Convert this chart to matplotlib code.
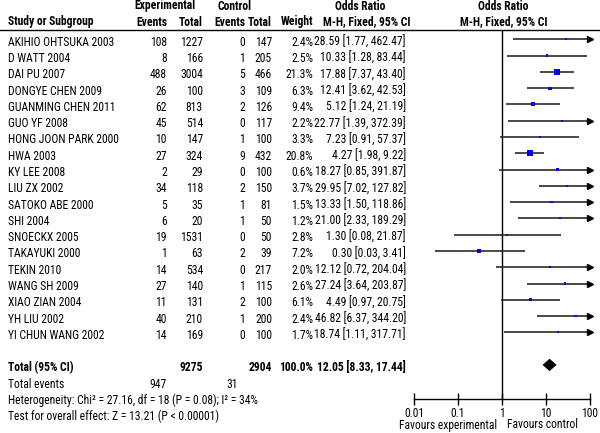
import matplotlib
matplotlib.use('Agg')
import matplotlib.pyplot as plt
from matplotlib.transforms import blended_transform_factory
from matplotlib.lines import Line2D
from matplotlib import font_manager
import numpy as np

_names = {f.name for f in font_manager.fontManager.ttflist}
_narrow = [n for n in ['Liberation Sans Narrow', 'Arial Narrow', 'Roboto Condensed'] if n in _names]
if _narrow:
    plt.rcParams['font.family'] = [_narrow[0], 'DejaVu Sans']
    fs = 8.4
else:
    plt.rcParams['font.family'] = ['Liberation Sans', 'DejaVu Sans']
    fs = 6.9

studies = ["AKIHIO OHTSUKA 2003", "D WATT 2004", "DAI PU 2007", "DONGYE CHEN 2009",
           "GUANMING CHEN 2011", "GUO YF 2008", "HONG JOON PARK 2000", "HWA 2003",
           "KY LEE 2008", "LIU ZX 2002", "SATOKO ABE 2000", "SHI 2004", "SNOECKX 2005",
           "TAKAYUKI 2000", "TEKIN 2010", "WANG SH 2009", "XIAO ZIAN 2004", "YH LIU 2002",
           "YI CHUN WANG 2002"]
exp_events = [108, 8, 488, 26, 62, 45, 10, 27, 2, 34, 5, 6, 19, 1, 14, 27, 11, 40, 14]
exp_total = [1227, 166, 3004, 100, 813, 514, 147, 324, 29, 118, 35, 20, 1531, 63, 534, 140, 131, 210, 169]
ctrl_events = [0, 1, 5, 3, 2, 0, 1, 9, 0, 2, 1, 1, 0, 2, 0, 1, 2, 1, 0]
ctrl_total = [147, 205, 466, 109, 126, 117, 100, 432, 100, 150, 81, 50, 50, 39, 217, 115, 100, 200, 100]
weights = [2.4, 2.5, 21.3, 6.3, 9.4, 2.2, 3.3, 20.8, 0.6, 3.7, 1.5, 1.2, 2.8, 7.2, 2.0, 2.6, 6.1, 2.4, 1.7]
or_vals = [28.59, 10.33, 17.88, 12.41, 5.12, 22.77, 7.23, 4.27, 18.27, 29.95, 13.33, 21.00,
           1.30, 0.30, 12.12, 27.24, 4.49, 46.82, 18.74]
ci_low = [1.77, 1.28, 7.37, 3.62, 1.24, 1.39, 0.91, 1.98, 0.85, 7.02, 1.50, 2.33,
          0.08, 0.03, 0.72, 3.64, 0.97, 6.37, 1.11]
ci_high = [462.47, 83.44, 43.40, 42.53, 21.19, 372.39, 57.37, 9.22, 391.87, 127.82, 118.86, 189.29,
           21.87, 3.41, 204.04, 203.87, 20.75, 344.20, 317.71]
total_or, total_lo, total_hi = 12.05, 8.33, 17.44
total_exp, total_ctrl, total_weight = 9275, 2904, 100.0
total_events_exp, total_events_ctrl = 947, 31
het_text = "Heterogeneity: Chi\u00b2 = 27.16, df = 18 (P = 0.08); I\u00b2 = 34%"
test_text = "Test for overall effect: Z = 13.21 (P < 0.00001)"
x_ticks = [0.01, 0.1, 1, 10, 100]
x_tick_labels = ["0.01", "0.1", "1", "10", "100"]

W, H = 600, 433
fig = plt.figure(figsize=(W / 100, H / 100), dpi=100)
fig.patch.set_facecolor('white')

row0_px, step_px = 39.3, 16.28
top_px, bot_px = 30, 399
xl_px, xr_px = 414, 590
ax = fig.add_axes([xl_px / W, 1 - bot_px / H, (xr_px - xl_px) / W, (bot_px - top_px) / H])
ax.set_xscale('log')
ax.set_xlim(x_ticks[0], x_ticks[-1])
ax.set_ylim((bot_px - row0_px) / step_px, (top_px - row0_px) / step_px)
for s in ['top', 'left', 'right']:
    ax.spines[s].set_visible(False)
ax.spines['bottom'].set_linewidth(1.0)
ax.set_yticks([])
ax.set_xticks(x_ticks)
ax.set_xticklabels(x_tick_labels)
ax.minorticks_off()
ax.tick_params(axis='x', direction='inout', length=8, width=1.0, labelsize=fs, pad=1.5)
ax.patch.set_alpha(0)

ax.axvline(1, color='black', lw=1.0, zorder=1)

line_col = '#222222'
n = len(studies)
rows = np.arange(n)
for i in range(n):
    lo = max(ci_low[i], x_ticks[0])
    hi = min(ci_high[i], x_ticks[-1])
    ax.plot([lo, hi], [rows[i], rows[i]], color=line_col, lw=1.15, solid_capstyle='butt', zorder=2)
    if ci_high[i] > x_ticks[-1]:
        ax.plot([x_ticks[-1]], [rows[i]], marker='>', color='black', markersize=5,
                clip_on=False, zorder=3)
side_px = np.maximum(2.2, 6.0 * np.sqrt(np.array(weights) / max(weights)))
ax.scatter(or_vals, rows, marker='s', s=(side_px * 0.72) ** 2, color='#0000ff',
           edgecolors='none', zorder=4)

# total diamond
tot_row = n + 1
dh = 0.38
ax.fill([total_lo, total_or, total_hi, total_or], [tot_row, tot_row - dh, tot_row, tot_row + dh],
        color='black', zorder=4, lw=0)

ax.annotate("Favours experimental", xy=(1, 0), xycoords=('data', 'axes fraction'),
            xytext=(-5, -26), textcoords='offset pixels', ha='right', va='center', fontsize=fs)
ax.annotate("Favours control", xy=(1, 0), xycoords=('data', 'axes fraction'),
            xytext=(5, -26), textcoords='offset pixels', ha='left', va='center', fontsize=fs)

# header line
fig.add_artist(Line2D([0, 1], [1 - top_px / H, 1 - top_px / H], color='black', lw=1.0,
                      transform=fig.transFigure))

trans = blended_transform_factory(fig.transFigure, ax.transData)
toff = 3.0 / step_px
col_x = {'name': 8, 'ee': 167, 'et': 203, 'ce': 245, 'ct': 272, 'w': 313, 'or': 406}

def fx(px):
    return px / W

for i in range(n):
    y = rows[i] + toff
    ax.text(fx(col_x['name']), y, studies[i], transform=trans, ha='left', va='center', fontsize=fs)
    ax.text(fx(col_x['ee']), y, str(exp_events[i]), transform=trans, ha='right', va='center', fontsize=fs)
    ax.text(fx(col_x['et']), y, str(exp_total[i]), transform=trans, ha='right', va='center', fontsize=fs)
    ax.text(fx(col_x['ce']), y, str(ctrl_events[i]), transform=trans, ha='right', va='center', fontsize=fs)
    ax.text(fx(col_x['ct']), y, str(ctrl_total[i]), transform=trans, ha='right', va='center', fontsize=fs)
    ax.text(fx(col_x['w']), y, f"{weights[i]:.1f}%", transform=trans, ha='right', va='center', fontsize=fs)
    ax.text(fx(col_x['or']), y, f"{or_vals[i]:.2f} [{ci_low[i]:.2f}, {ci_high[i]:.2f}]",
            transform=trans, ha='right', va='center', fontsize=fs)

y = tot_row + toff
ax.text(fx(col_x['name']), y, "Total (95% CI)", transform=trans, ha='left', va='center', fontsize=fs, fontweight='bold')
ax.text(fx(col_x['et']), y, str(total_exp), transform=trans, ha='right', va='center', fontsize=fs, fontweight='bold')
ax.text(fx(col_x['ct']), y, str(total_ctrl), transform=trans, ha='right', va='center', fontsize=fs, fontweight='bold')
ax.text(fx(col_x['w']), y, f"{total_weight:.1f}%", transform=trans, ha='right', va='center', fontsize=fs, fontweight='bold')
ax.text(fx(col_x['or']), y, f"{total_or:.2f} [{total_lo:.2f}, {total_hi:.2f}]",
        transform=trans, ha='right', va='center', fontsize=fs, fontweight='bold')

y = tot_row + 1 + toff
ax.text(fx(col_x['name']), y, "Total events", transform=trans, ha='left', va='center', fontsize=fs)
ax.text(fx(col_x['ee']), y, str(total_events_exp), transform=trans, ha='right', va='center', fontsize=fs)
ax.text(fx(238), y, str(total_events_ctrl), transform=trans, ha='right', va='center', fontsize=fs)
ax.text(fx(col_x['name']), tot_row + 2 + toff, het_text, transform=trans, ha='left', va='center', fontsize=fs)
ax.text(fx(col_x['name']), tot_row + 3 + toff, test_text, transform=trans, ha='left', va='center', fontsize=fs)

# headers
h1 = 1 - 6 / H
h2 = 1 - 22 / H
hk = dict(fontsize=fs, fontweight='bold', va='center')
fig.text(fx(165), h1, "Experimental", ha='center', **hk)
fig.text(fx(235), h1, "Control", ha='center', **hk)
fig.text(fx(360), h1, "Odds Ratio", ha='center', **hk)
fig.text(fx(503), h1, "Odds Ratio", ha='center', **hk)
fig.text(fx(col_x['name']), h2, "Study or Subgroup", ha='left', **hk)
fig.text(fx(col_x['ee']), h2, "Events", ha='right', **hk)
fig.text(fx(col_x['et']), h2, "Total", ha='right', **hk)
fig.text(fx(col_x['ce']), h2, "Events", ha='right', **hk)
fig.text(fx(col_x['ct']), h2, "Total", ha='right', **hk)
fig.text(fx(col_x['w']), h2, "Weight", ha='right', **hk)
fig.text(fx(367), h2, "M-H, Fixed, 95% CI", ha='center', **hk)
fig.text(fx(504), h2, "M-H, Fixed, 95% CI", ha='center', **hk)

fig.savefig('out.png', dpi=100, facecolor='white')
